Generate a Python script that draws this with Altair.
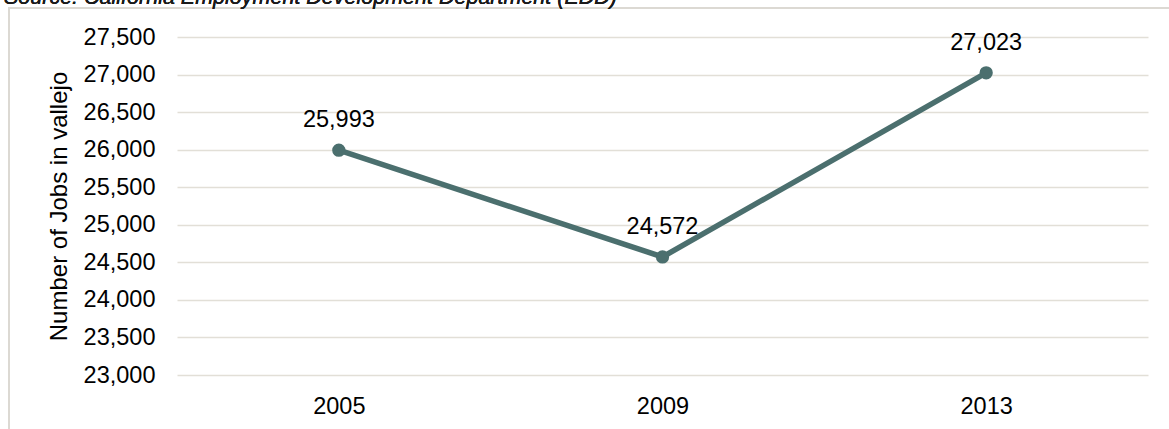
import altair as alt
import pandas as pd

# Jobs in Vallejo by survey year
years = ["2005", "2009", "2013"]
jobs = [25993, 24572, 27023]
y_ticks = list(range(23000, 27501, 500))

source_note = "Source: California Employment Development Department (EDD)"

LINE = "#4b6f6e"
GRID = "#e2dfd7"
FONT = "Liberation Sans"

df = pd.DataFrame({"year": years, "jobs": jobs})

W, H = 971, 338
PAD_L, PAD_T = 177, 37

x_enc = alt.X(
    "year:N",
    sort=years,
    scale=alt.Scale(type="point", padding=0.5),
    axis=alt.Axis(
        title=None,
        labelFontSize=23.5,
        labelFont=FONT,
        labelColor="#000000",
        labelPadding=19,
        labelAngle=0,
        ticks=False,
        domain=False,
        grid=False,
    ),
)
y_enc = alt.Y(
    "jobs:Q",
    scale=alt.Scale(domain=[23000, 27500], nice=False, zero=False),
    axis=alt.Axis(
        values=y_ticks,
        labelExpr="format(datum.value, ',')",
        labelFontSize=23.5,
        labelFont=FONT,
        labelColor="#000000",
        labelPadding=22,
        ticks=False,
        domain=False,
        grid=True,
        gridColor=GRID,
        gridWidth=1.6,
        title="Number of Jobs in vallejo",
        titleFont=FONT,
        titleFontSize=24,
        titleFontWeight="normal",
        titleColor="#000000",
        titleAngle=270,
        titleAlign="center",
        titleBaseline="middle",
        titleX=-118,
        titleY=169,
    ),
)

base = alt.Chart(df).encode(x=x_enc, y=y_enc)

line = base.mark_line(color=LINE, strokeWidth=5.5)
points = base.mark_circle(color=LINE, size=177, opacity=1)
labels = base.mark_text(
    dy=-23, baseline="alphabetic", fontSize=23.5, font=FONT, color="#000000"
).encode(text=alt.Text("jobs:Q", format=","))

# outer frame around the chart
frame = alt.Chart(df).mark_rect(
    fillOpacity=0, stroke="#dcd9d2", strokeWidth=1.5, clip=False
).encode(
    x=alt.value(-168), x2=alt.value(1169 - PAD_L + 10),
    y=alt.value(-29), y2=alt.value(429 - PAD_T + 10),
)

note = alt.Chart(df).mark_text(
    align="left", baseline="alphabetic", fontSize=21.5, font=FONT,
    fontStyle="italic", color="#1a1a1a",
).encode(
    x=alt.value(-173), y=alt.value(-33), text=alt.value(source_note)
)

chart = alt.layer(frame, line, points, labels, note).properties(
    width=W,
    height=H,
    autosize=alt.AutoSizeParams(type="none"),
    padding={"left": PAD_L, "top": PAD_T, "right": 1169 - PAD_L - W, "bottom": 429 - PAD_T - H},
    background="#ffffff",
).configure_view(stroke=None)

chart.save("out.html", embed_options={"renderer": "svg", "actions": False})
